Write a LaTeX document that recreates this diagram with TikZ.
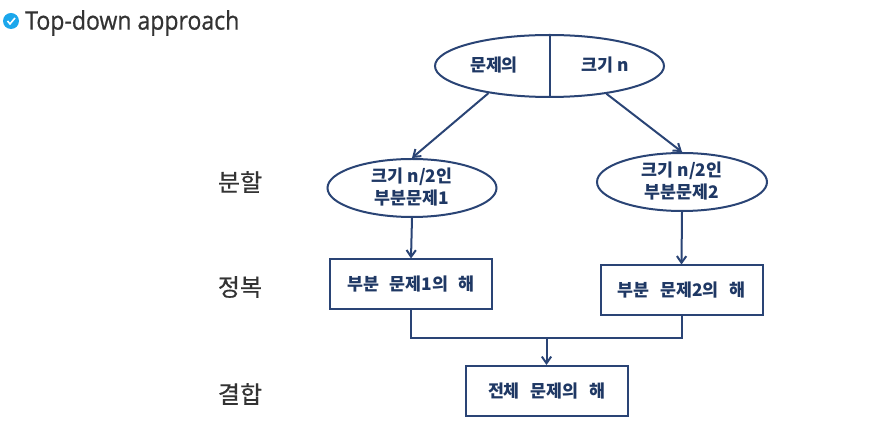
\documentclass[tikz,border=0pt]{standalone}
\usepackage{fontspec}
\setmainfont{Noto Sans CJK KR}
\newfontfamily\titlefont[FakeStretch=0.9,FakeBold=0.7]{Open Sans}
\newfontfamily\sidefont[FakeBold=0.6]{Noto Sans CJK KR}
\newcommand{\wgap}{\hspace{5pt}}
\usetikzlibrary{shapes.geometric,arrows.meta}
\definecolor{navy}{HTML}{2A4475}
\definecolor{txtnavy}{HTML}{1F3864}
\definecolor{lab}{HTML}{333333}
\definecolor{tick}{HTML}{1CA7EC}
\tikzset{
  shapeline/.style={draw=navy,line width=1.5pt,fill=white},
  ell/.style={shapeline,ellipse,inner sep=0pt,minimum width=#1},
  bx/.style={shapeline,rectangle,inner sep=0pt,minimum width=121.5pt,minimum height=37.5pt},
  inner/.style={text=txtnavy,font=\fontsize{13pt}{16.5pt}\selectfont\bfseries,align=center,inner sep=0pt},
  side/.style={text=lab,font=\sidefont\fontsize{18pt}{20pt}\selectfont,inner sep=0pt},
  conn/.style={draw=navy,line width=1.5pt},
  arr/.style={conn,-{Straight Barb[length=5pt,width=7pt]}}
}
\begin{document}
\begin{tikzpicture}[x=0.75pt,y=-0.75pt]
\useasboundingbox (0,0) rectangle (890,441);
% title
\node[circle,fill=tick,minimum size=12pt,inner sep=0pt] (icon) at (11,21) {};
\draw[white,line width=1.2pt] ([shift={(-3.5,0)}]icon.center) -- ([shift={(-1,3)}]icon.center) -- ([shift={(4,-3)}]icon.center);
\node[anchor=west,inner sep=0pt,text=lab,font=\titlefont\fontsize{19.2pt}{22pt}\selectfont] (title) at (25,23) {Top-down approach};
% ellipses
\node[ell=171.75pt,minimum height=46.5pt] (top) at (549.5,66) {};
\node[inner] (tl) at (494,65) {문제의};
\node[inner] (tr) at (605,65) {크기 n};
\node[ell=126.75pt,minimum height=43.5pt] (left) at (412,188) {};
\node[inner] (leftt) at (412,187) {크기 n/2인\\부분문제1};
\node[ell=127.5pt,minimum height=43.5pt] (right) at (682,182) {};
\node[inner] (rightt) at (682,181) {크기 n/2인\\부분문제2};
% boxes
\node[bx] (b1) at (411,284.5) {};
\node[inner] at (b1.center) (b1t) {부분\wgap{} 문제1의\wgap{} 해};
\node[bx] (b2) at (681.5,290.5) {};
\node[inner] at (b2.center) (b2t) {부분\wgap{} 문제2의\wgap{} 해};
\node[bx] (b3) at (546.5,391) {};
\node[inner] at (b3.center) (b3t) {전체\wgap{} 문제의\wgap{} 해};
% side labels
\node[side] (s1) at (240,182) {분할};
\node[side] (s2) at (240,287) {정복};
\node[side] (s3) at (240,394) {결합};
% connectors
\draw[conn] (top.north) -- (top.south);
\draw[arr] (top.204) -- (left.north);
\draw[arr] (top.334) -- (right.north);
\draw[arr] (left.south) -- (b1.north);
\draw[arr] (right.south) -- (b2.north);
\coordinate (join) at (b3.north |- 0,338);
\draw[conn] (b1.south) |- (join);
\draw[conn] (b2.south) |- (join);
\draw[arr] (join) -- (b3.north);
\end{tikzpicture}
\end{document}
